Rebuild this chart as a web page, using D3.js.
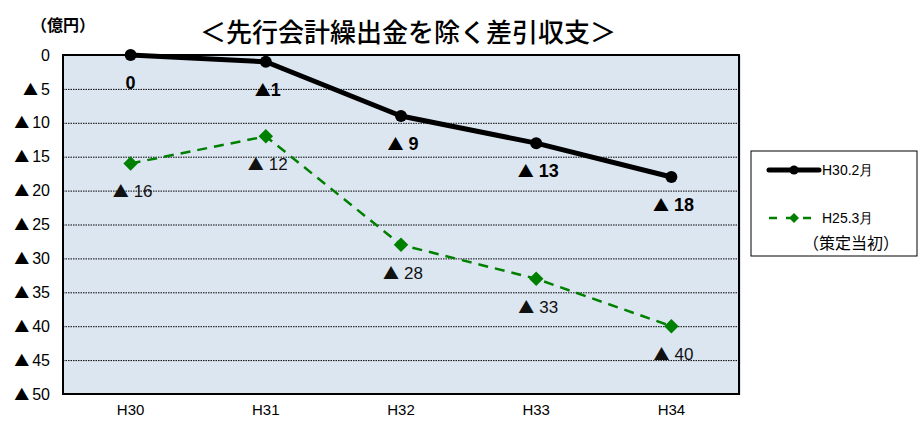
<!DOCTYPE html>
<html><head><meta charset="utf-8">
<script src="https://cdn.jsdelivr.net/npm/d3@7"></script>
<style>
body{margin:0;background:#fff;}
svg{display:block;font-family:"Liberation Sans",Arial,sans-serif;}
.jp{font-family:"Noto Sans CJK JP",sans-serif;}
</style></head>
<body><svg id="c" width="918" height="422"></svg>
<script>
// Fiscal years on the x axis
const years = ["H30", "H31", "H32", "H33", "H34"];
// Balance excluding advance account transfers (deficits, 億円)
const actual = [0, 1, 9, 13, 18];        // H30.2月
const plan = [16, 12, 28, 33, 40];       // H25.3月（策定当初）
const yTicks = [0, 5, 10, 15, 20, 25, 30, 35, 40, 45, 50];
const seriesNames = ["H30.2月", "H25.3月", "（策定当初）"];

const svg = d3.select("#c");
const m = {l: 63, t: 55, r: 739, b: 394};

const x = d3.scaleBand().domain(years).range([m.l, m.r]);
const cx = d => x(d) + x.bandwidth() / 2;
const y = d3.scaleLinear().domain([0, 50]).range([m.t, m.b]);

// writes "▲ n" into a text node, the triangle set in a CJK face
function deficit(sel, v, triSize, gap) {
  sel.text(null);
  if (v === 0) { sel.text("0"); return; }
  sel.append("tspan").attr("font-family", "'Noto Sans CJK JP',sans-serif")
    .attr("font-size", triSize).text("▲");
  sel.append("tspan").attr("dx", gap).text(String(v));
}

// plot area
svg.append("rect").attr("x", m.l + 2).attr("y", m.t).attr("width", m.r - m.l).attr("height", m.b - m.t + 1)
  .attr("fill", "#dde6f2");
svg.append("rect").attr("x", m.l).attr("y", m.t).attr("width", m.r - m.l).attr("height", m.b - m.t)
  .attr("fill", "#dce6f1");

// dotted gridlines
svg.append("g").selectAll("line").data(yTicks.filter(t => t > 0 && t < 50)).join("line")
  .attr("x1", m.l).attr("x2", m.r).attr("y1", d => y(d) + 0.5).attr("y2", d => y(d) + 0.5)
  .attr("stroke", "#000").attr("stroke-width", 1).attr("stroke-dasharray", "1.5,1");

svg.append("rect").attr("x", m.l).attr("y", m.t).attr("width", m.r - m.l).attr("height", m.b - m.t)
  .attr("fill", "none").attr("stroke", "#000").attr("stroke-width", 2);

// y axis labels
const yAxis = d3.axisLeft(y).tickValues(yTicks).tickSize(0).tickPadding(13);
const gy = svg.append("g").attr("transform", `translate(${m.l},0)`).call(yAxis);
gy.select(".domain").remove();
gy.selectAll("text").attr("font-size", 16).attr("fill", "#000")
  .attr("font-family", "'Liberation Sans',Arial,sans-serif")
  .each(function(d) { deficit(d3.select(this), d, 15, 3); });

// x axis labels
const xAxis = d3.axisBottom(x).tickSize(0).tickPadding(10);
const gx = svg.append("g").attr("transform", `translate(0,${m.b})`).call(xAxis);
gx.select(".domain").remove();
gx.selectAll("text").attr("font-size", 15).attr("fill", "#000")
  .attr("font-family", "'Liberation Sans',Arial,sans-serif");

// unit and title
svg.append("text").attr("class", "jp").attr("x", 31).attr("y", 31).attr("font-size", 16)
  .attr("font-weight", 700).text("（億円）");
svg.append("text").attr("class", "jp").attr("x", 408).attr("y", 42).attr("text-anchor", "middle")
  .attr("font-size", 26).attr("font-weight", 500).text("＜先行会計繰出金を除く差引収支＞");

// planned series (green dashed, diamonds)
const line = d3.line().x((d, i) => cx(years[i])).y(d => y(d));
svg.append("path").datum(plan).attr("d", line).attr("fill", "none")
  .attr("stroke", "#008000").attr("stroke-width", 2.5).attr("stroke-dasharray", "10,7");
svg.append("g").selectAll("path").data(plan).join("path")
  .attr("transform", (d, i) => `translate(${cx(years[i])},${y(d)}) rotate(45)`)
  .attr("d", d3.symbol(d3.symbolSquare, 105)).attr("fill", "#008000");

// actual series (thick black, circles)
svg.append("path").datum(actual).attr("d", line).attr("fill", "none")
  .attr("stroke", "#000").attr("stroke-width", 5).attr("stroke-linejoin", "round");
svg.append("g").selectAll("circle").data(actual).join("circle")
  .attr("cx", (d, i) => cx(years[i])).attr("cy", d => y(d)).attr("r", 6).attr("fill", "#000");

// value labels
svg.append("g").selectAll("text").data(actual).join("text")
  .attr("x", (d, i) => cx(years[i]) + (d === 0 ? 0 : 2)).attr("y", d => y(d) + 34)
  .attr("text-anchor", "middle").attr("font-size", 18).attr("font-weight", 700)
  .each(function(d) { deficit(d3.select(this), d, 16, d === 1 ? 0 : 5); });
svg.append("g").selectAll("text").data(plan).join("text")
  .attr("x", (d, i) => cx(years[i]) + 2).attr("y", d => y(d) + 34)
  .attr("text-anchor", "middle").attr("font-size", 17).attr("fill", "#111")
  .each(function(d) { deficit(d3.select(this), d, 16, 5); });

// legend
const lg = svg.append("g");
lg.append("rect").attr("x", 751).attr("y", 151).attr("width", 166).attr("height", 105)
  .attr("fill", "#fff").attr("stroke", "#000").attr("stroke-width", 1);
lg.append("line").attr("x1", 769).attr("x2", 819).attr("y1", 170).attr("y2", 170)
  .attr("stroke", "#000").attr("stroke-width", 5).attr("stroke-linecap", "round");
lg.append("circle").attr("cx", 794).attr("cy", 170).attr("r", 4.5).attr("fill", "#000");
lg.append("line").attr("x1", 769).attr("x2", 820).attr("y1", 218).attr("y2", 218)
  .attr("stroke", "#008000").attr("stroke-width", 2.5).attr("stroke-dasharray", "8,9");
lg.append("path").attr("transform", "translate(794,218) rotate(45)")
  .attr("d", d3.symbol(d3.symbolSquare, 50)).attr("fill", "#008000");
lg.append("text").attr("x", 822).attr("y", 175).attr("font-size", 14)
  .text(seriesNames[0]);
lg.append("text").attr("x", 822).attr("y", 223).attr("font-size", 14)
  .text(seriesNames[1]);
lg.append("text").attr("class", "jp").attr("x", 803).attr("y", 249).attr("font-size", 16)
  .text(seriesNames[2]);
</script></body></html>
